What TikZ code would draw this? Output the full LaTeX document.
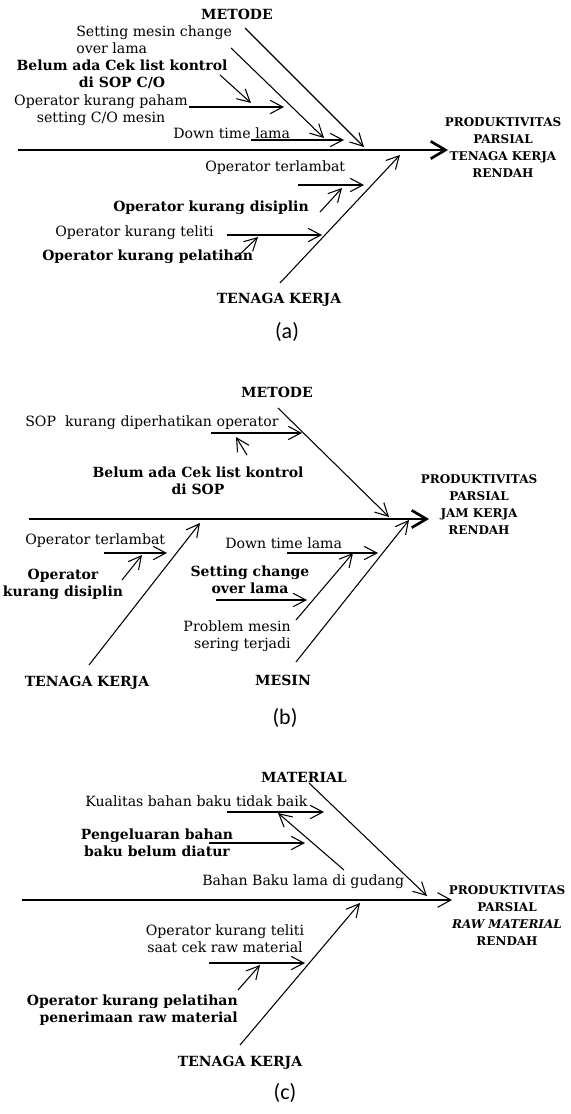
\documentclass[tikz,border=0pt]{standalone}
\usepackage{fontspec}
\setmainfont{DejaVu Serif}
\newfontfamily\capfont{Carlito}
\usetikzlibrary{arrows.meta}

\begin{document}
\begin{tikzpicture}[x=0.75pt, y=-0.75pt,
		cause/.style = {inner sep=0pt, font=\fontsize{10.6}{12.75}\selectfont},
		causeb/.style = {inner sep=0pt, font=\fontsize{10.5}{12.75}\selectfont\bfseries},
		cat/.style = {inner sep=0pt, font=\fontsize{10.5}{12.75}\selectfont\bfseries},
		effect/.style = {inner sep=0pt, align=center, font=\fontsize{9}{12.75}\selectfont\bfseries},
		capt/.style = {inner sep=0pt, font=\fontsize{16.5}{18}\selectfont\capfont},
		bone/.style = {line width=0.8pt, -{Straight Barb[length=9.5pt,width=10pt]}},
		spine/.style = {line width=2pt, -{Straight Barb[length=11pt,width=13pt]}},
		spinethin/.style = {line width=0.8pt, -{Straight Barb[length=10pt,width=11pt]}}]
	\useasboundingbox (0,0) rectangle (571,1114);

	% (a)
	\node[cat] (metA) at (237,14) {METODE};
	\node[cause, anchor=west, align=left] (setA) at (76,40) {Setting mesin change\\over lama};
	\node[causeb, align=center] (cekA) at (122,74) {Belum ada Cek list kontrol\\di SOP C/O};
	\node[cause, align=center] (pahamA) at (101,110) {Operator kurang paham\\setting C/O mesin};
	\node[cause, anchor=west] (downA) at (173,133) {Down time lama};
	\node[cause, anchor=west] (lambatA) at (205,168) {Operator terlambat};
	\node[causeb, anchor=west] (disA) at (113,208) {Operator kurang disiplin};
	\node[cause, anchor=west] (telitiA) at (55,233) {Operator kurang teliti};
	\node[causeb, anchor=west] (latihA) at (42,257) {Operator kurang pelatihan};
	\node[cat] (tkA) at (279,300) {TENAGA KERJA};
	\node[effect] (efA) at (503,148) {PRODUKTIVITAS\\PARSIAL\\TENAGA KERJA\\RENDAH};
	\node[capt] (capA) at (287,332) {(a)};
	\coordinate (a0) at (18,150); \coordinate (a0e) at (448,150);
	\coordinate (am1) at (245,28); \coordinate (am2) at (364,147);
	\coordinate (as1) at (231,48); \coordinate (as2) at (324,138);
	\coordinate (ac1) at (220,75); \coordinate (ac2) at (251,103);
	\coordinate (ap1) at (189,107); \coordinate (ap2) at (284,107);
	\coordinate (ad1) at (251,140); \coordinate (ad2) at (344,140);
	\coordinate (at1) at (280,283); \coordinate (at2) at (400,155);
	\coordinate (al1) at (298,185); \coordinate (al2) at (364,185);
	\coordinate (ads1) at (320,212); \coordinate (ads2) at (342,188);
	\coordinate (ate1) at (227,235); \coordinate (ate2) at (322,235);
	\coordinate (apl1) at (236,258); \coordinate (apl2) at (258,237);
	\draw[spine] (a0) -- (a0e);
	\path[bone]
		(am1) edge (am2) (as1) edge (as2) (ac1) edge (ac2)
		(ap1) edge (ap2) (ad1) edge (ad2) (at1) edge (at2)
		(al1) edge (al2) (ads1) edge (ads2)
		(ate1) edge (ate2) (apl1) edge (apl2);

	% (b)
	\node[cat] (metB) at (277,392) {METODE};
	\node[cause, anchor=west] (sopB) at (25,423) {SOP\ \ kurang diperhatikan operator};
	\node[causeb, align=center] (cekB) at (198,481) {Belum ada Cek list kontrol\\di SOP};
	\node[effect] (efB) at (479,505) {PRODUKTIVITAS\\PARSIAL\\JAM KERJA\\RENDAH};
	\node[cause, anchor=west] (lambatB) at (25,541) {Operator terlambat};
	\node[causeb, align=center] (disB) at (63,584) {Operator\\kurang disiplin};
	\node[cause, anchor=west] (downB) at (225,543) {Down time lama};
	\node[causeb, align=center] (setB) at (250,580) {Setting change\\over lama};
	\node[cause, anchor=east, align=right] (probB) at (291,636) {Problem mesin\\sering terjadi};
	\node[cat] (tkB) at (87,683) {TENAGA KERJA};
	\node[cat] (msB) at (283,680) {MESIN};
	\node[capt] (capB) at (285,718) {(b)};
	\coordinate (b0) at (29,519); \coordinate (b0e) at (429,519);
	\coordinate (bm1) at (278,408); \coordinate (bm2) at (389,517);
	\coordinate (bs1) at (211,433); \coordinate (bs2) at (302,433);
	\coordinate (bc1) at (247,455); \coordinate (bc2) at (236,437);
	\coordinate (bt1) at (89,665); \coordinate (bt2) at (200,523);
	\coordinate (bl1) at (104,553); \coordinate (bl2) at (167,553);
	\coordinate (bds1) at (122,580); \coordinate (bds2) at (142,555);
	\coordinate (bms1) at (296,662); \coordinate (bms2) at (409,520);
	\coordinate (bd1) at (287,553); \coordinate (bd2) at (378,553);
	\coordinate (bst1) at (216,600); \coordinate (bst2) at (307,600);
	\coordinate (bp1) at (296,620); \coordinate (bp2) at (353,553);
	\draw[spine] (b0) -- (b0e);
	\path[bone]
		(bm1) edge (bm2) (bs1) edge (bs2) (bc1) edge (bc2)
		(bt1) edge (bt2) (bl1) edge (bl2) (bds1) edge (bds2)
		(bms1) edge (bms2) (bd1) edge (bd2)
		(bst1) edge (bst2) (bp1) edge (bp2);

	% (c)
	\node[cat] (metC) at (304,777) {MATERIAL};
	\node[cause, anchor=west] (kualC) at (85,801) {Kualitas bahan baku tidak baik};
	\node[causeb, align=center] (pengC) at (157,843) {Pengeluaran bahan\\baku belum diatur};
	\node[cause, anchor=west] (lamaC) at (202,882) {Bahan Baku lama di gudang};
	\node[effect] (efC) at (507,916) {PRODUKTIVITAS\\PARSIAL\\\textit{RAW MATERIAL}\\RENDAH};
	\node[cause, align=center] (telitiC) at (225,939) {Operator kurang teliti\\saat cek raw material};
	\node[causeb, anchor=east, align=right] (latihC) at (238,1010) {Operator kurang pelatihan\\penerimaan raw material};
	\node[cat] (tkC) at (240,1063) {TENAGA KERJA};
	\node[capt] (capC) at (285,1093) {(c)};
	\coordinate (c0) at (22,900); \coordinate (c0e) at (452,900);
	\coordinate (cm1) at (309,783); \coordinate (cm2) at (427,896);
	\coordinate (ck1) at (227,812); \coordinate (ck2) at (324,812);
	\coordinate (cp1) at (209,843); \coordinate (cp2) at (305,843);
	\coordinate (cb1) at (344,870); \coordinate (cb2) at (278,813);
	\coordinate (ct1) at (240,1045); \coordinate (ct2) at (360,903);
	\coordinate (cte1) at (209,963); \coordinate (cte2) at (305,963);
	\coordinate (cpl1) at (238,990); \coordinate (cpl2) at (260,965);
	\draw[spinethin] (c0) -- (c0e);
	\path[bone]
		(cm1) edge (cm2) (ck1) edge (ck2) (cp1) edge (cp2)
		(cb1) edge (cb2) (ct1) edge (ct2)
		(cte1) edge (cte2) (cpl1) edge (cpl2);
\end{tikzpicture}
\end{document}
